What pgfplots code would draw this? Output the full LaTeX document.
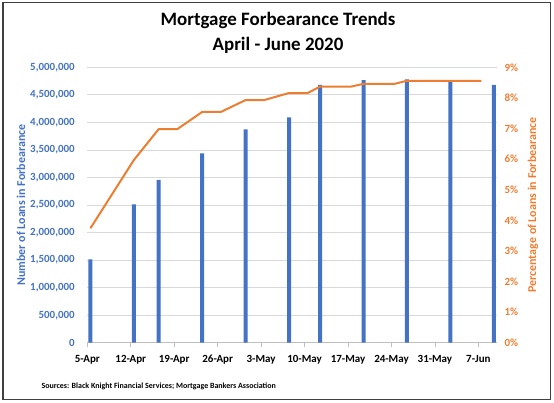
\documentclass[border=0pt]{standalone}
\usepackage{pgfplots}
\usepackage{pgfplotstable}
\pgfplotsset{compat=1.18}
\usepackage{fontspec}
\setmainfont{Carlito}

\definecolor{xlblue}{HTML}{4472C4}
\definecolor{xlorange}{HTML}{ED7D31}
\definecolor{gridgray}{HTML}{D9D9D9}
\definecolor{axgray}{HTML}{BFBFBF}
\definecolor{framegray}{HTML}{404040}

% day 0 = 5-Apr, values plotted at the middle of the day
\pgfplotstableread{
day  loans
0.5  1514000
7.5  2513000
11.5 2954000
18.5 3439000
25.5 3875000
32.5 4093000
37.5 4680000
44.5 4765000
51.5 4780000
58.5 4750000
65.5 4680000
}\loans

\pgfplotstableread{
day  pct
0.5  3.74
7.5  5.97
11.5 6.98
14.5 6.98
18.5 7.54
21.5 7.54
25.5 7.93
28.5 7.93
32.5 8.16
35.5 8.16
37.5 8.37
42.5 8.37
44.5 8.46
49.5 8.46
51.5 8.56
63.5 8.56
}\pct

\begin{document}
\begin{tikzpicture}
\path[use as bounding box] (0,0) rectangle (554bp,-403bp);
\draw[framegray, line width=1.2bp] (3bp,-2.7bp) rectangle (550.3bp,-399.3bp);

\pgfplotsset{
  base/.style={
    at={(87.3bp,-342.7bp)}, anchor=south west, scale only axis,
    width=409.7bp, height=275.4bp,
    xmin=0, xmax=66,
    ytick style={draw=none},
    y axis line style={draw=none},
  }
}

\begin{axis}[
  base,
  ymin=0, ymax=5000000,
  axis y line*=left, axis x line*=bottom,
  x axis line style={draw=axgray, line width=0.8bp},
  xtick={0,7,...,63},
  xticklabels={5-Apr,12-Apr,19-Apr,26-Apr,3-May,10-May,17-May,24-May,31-May,7-Jun},
  xtick style={draw=axgray, line width=0.8bp},
  tick align=outside, major tick length=4bp,
  xticklabel style={font=\bfseries\fontsize{11}{13}\selectfont, text=black, yshift=-5bp},
  ytick={0,500000,...,5000000},
  scaled y ticks=false,
  yticklabel={\textbf{\pgfmathprintnumber[fixed, 1000 sep={,}, assume math mode=true]{\tick}}},
  yticklabel style={font=\bfseries\fontsize{11}{13}\selectfont, text=xlblue, xshift=-5bp},
  ymajorgrids, grid style={gridgray, line width=0.8bp},
]
\addplot[ybar, bar width=4bp, fill=xlblue, draw=none] table[x=day, y=loans] {\loans};
\end{axis}

\begin{axis}[
  base,
  ymin=0, ymax=9,
  axis y line*=right, axis x line=none,
  ytick={0,1,...,9},
  yticklabel={\textbf{\pgfmathprintnumber[assume math mode=true]{\tick}\%}},
  yticklabel style={font=\bfseries\fontsize{11}{13}\selectfont, text=xlorange, xshift=4bp},
]
\addplot[xlorange, line width=2bp, line join=round] table[x=day, y=pct] {\pct};
\end{axis}

\node[font=\bfseries\fontsize{19}{23}\selectfont] at (278bp,-20bp) {Mortgage Forbearance Trends};
\node[font=\bfseries\fontsize{19}{23}\selectfont] at (278bp,-45bp) {April - June 2020};
\node[rotate=90, font=\bfseries\fontsize{12}{14}\selectfont, text=xlblue] at (21bp,-205bp) {Number of Loans in Forbearance};
\node[rotate=90, font=\bfseries\fontsize{12}{14}\selectfont, text=xlorange] at (533bp,-205bp) {Percentage of Loans in Forbearance};
\node[anchor=west, font=\bfseries\fontsize{8}{10}\selectfont] at (38bp,-386bp) {Sources: Black Knight Financial Services; Mortgage Bankers Association};
\end{tikzpicture}
\end{document}
